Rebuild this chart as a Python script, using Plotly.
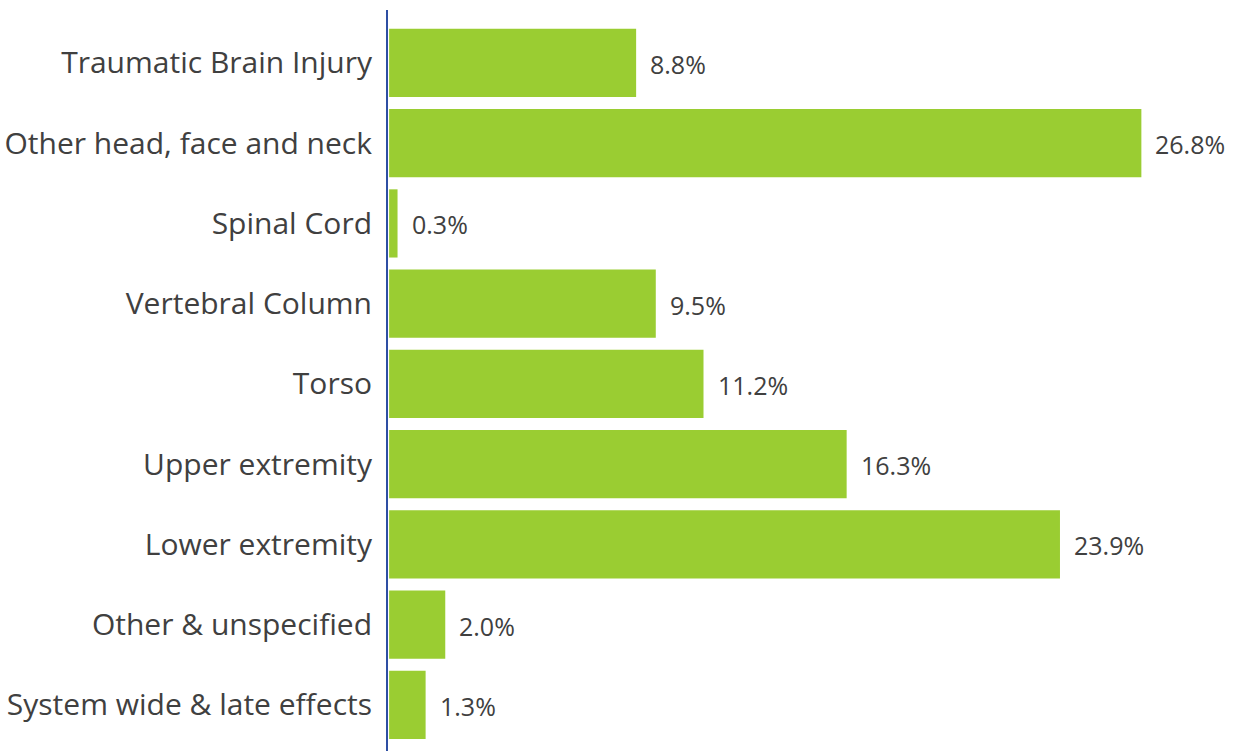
import plotly.graph_objects as go

categories = ["Traumatic Brain Injury", "Other head, face and neck", "Spinal Cord",
              "Vertebral Column", "Torso", "Upper extremity", "Lower extremity",
              "Other & unspecified", "System wide & late effects"]
values = [8.8, 26.8, 0.3, 9.5, 11.2, 16.3, 23.9, 2.0, 1.3]
labels = [f"{v:.1f}%" for v in values]

fig = go.Figure(go.Bar(
    y=categories, x=values, orientation="h",
    marker=dict(color="#9ACD32", line=dict(width=0)),
))
for c, v, t in zip(categories, values, labels):
    fig.add_annotation(x=v, y=c, text=t, showarrow=False, xanchor="left", xshift=12, yshift=-1,
                       font=dict(family="Open Sans", size=25, color="#404040"))
fig.update_layout(
    width=1234, height=751,
    margin=dict(l=388, r=0, t=10, b=0),
    paper_bgcolor="white", plot_bgcolor="white",
    bargap=0.15, showlegend=False,
    font=dict(family="Open Sans", color="#404040"),
    xaxis=dict(range=[-0.04, 30.1], visible=False, showgrid=False, zeroline=False),
    yaxis=dict(range=[8.575, -0.66], showline=True, linecolor="#2E4FA3", linewidth=2,
               ticks="", showgrid=False, zeroline=False,
               tickfont=dict(family="Open Sans", size=30, color="#404040"), ticklabelstandoff=8),
)
fig.write_html("out.html")
